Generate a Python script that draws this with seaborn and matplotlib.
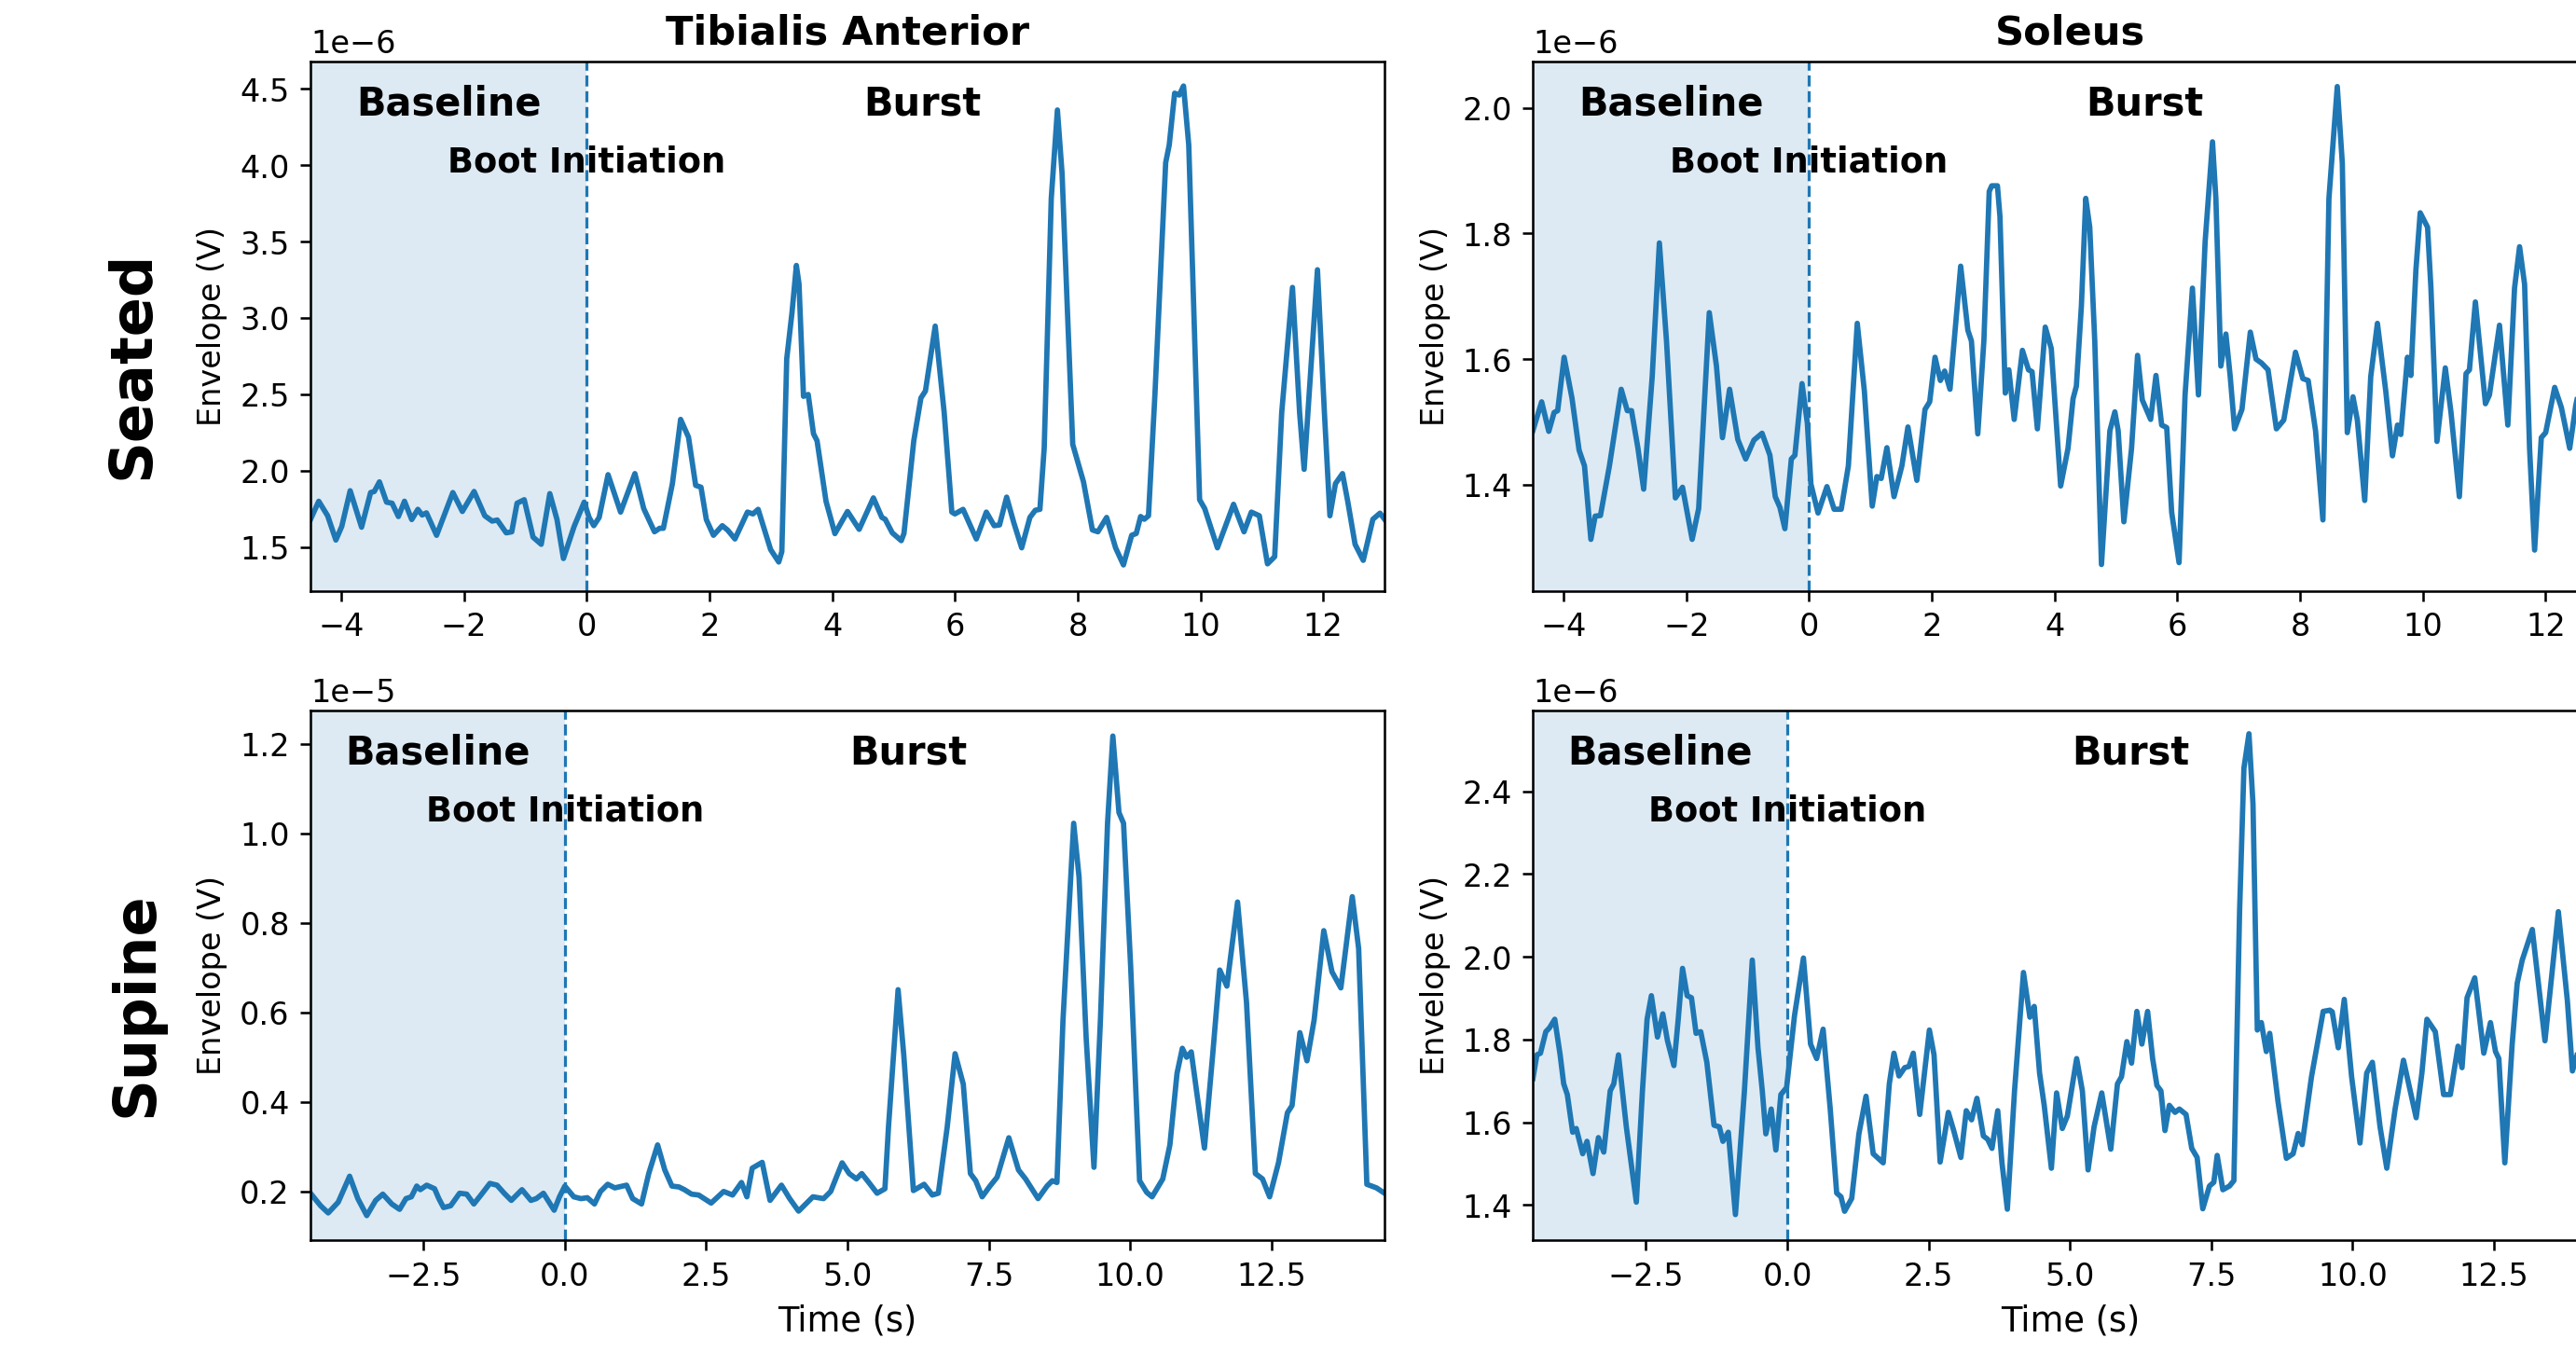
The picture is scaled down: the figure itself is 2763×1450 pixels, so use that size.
import numpy as np
import pandas as pd
import matplotlib
matplotlib.use("Agg")
import matplotlib.pyplot as plt
import matplotlib.transforms as mtransforms
import seaborn as sns

# ---- data (time in s, envelope in units of the axis offset) ----

# Tibialis Anterior, seated (x 1e-6 V)
ta_seated_t = [-4.5, -4.365, -4.22, -4.086, -3.99, -3.853, -3.667, -3.52, -3.46, -3.376, -3.26, -3.17,
               -3.067, -2.968, -2.85, -2.75, -2.68, -2.61, -2.445, -2.18, -2.025, -1.834, -1.66, -1.54,
               -1.456, -1.31, -1.22, -1.134, -1.017, -0.873, -0.74, -0.60, -0.483, -0.378, -0.204, -0.04,
               0.04, 0.116, 0.204, 0.349, 0.553, 0.786, 0.93, 1.105, 1.19, 1.25, 1.397, 1.531, 1.66, 1.776,
               1.863, 1.95, 2.066, 2.21, 2.30, 2.416, 2.62, 2.71, 2.794, 2.997, 3.13, 3.18, 3.26, 3.346,
               3.417, 3.46, 3.533, 3.61, 3.696, 3.754, 3.90, 4.045, 4.25, 4.44, 4.672, 4.81, 4.864, 4.98,
               5.126, 5.17, 5.33, 5.446, 5.52, 5.679, 5.825, 5.95, 6.0, 6.133, 6.349, 6.512, 6.64, 6.727,
               6.843, 6.96, 7.088, 7.222, 7.31, 7.385, 7.455, 7.57, 7.67, 7.746, 7.83, 7.92, 8.095, 8.24,
               8.33, 8.472, 8.618, 8.746, 8.88, 8.955, 9.026, 9.085, 9.154, 9.259, 9.434, 9.492, 9.58,
               9.655, 9.725, 9.81, 9.987, 10.07, 10.277, 10.54, 10.71, 10.83, 10.96, 11.093, 11.21,
               11.325, 11.5, 11.616, 11.69, 11.79, 11.907, 12.02, 12.11, 12.2, 12.315, 12.40, 12.52,
               12.653, 12.81, 12.926, 13.0]
ta_seated_v = [1.68, 1.80, 1.705, 1.546, 1.635, 1.869, 1.63, 1.857, 1.864, 1.927, 1.794, 1.787,
               1.70, 1.80, 1.68, 1.747, 1.71, 1.724, 1.577, 1.857, 1.733, 1.864, 1.705, 1.67,
               1.677, 1.593, 1.60, 1.787, 1.81, 1.565, 1.518, 1.85, 1.68, 1.425, 1.635, 1.794,
               1.694, 1.64, 1.694, 1.974, 1.729, 1.981, 1.752, 1.60, 1.623, 1.623, 1.915, 2.336, 2.219, 1.904,
               1.892, 1.68, 1.577, 1.64, 1.61, 1.553, 1.729, 1.717, 1.747, 1.484, 1.402, 1.47, 2.733, 3.036,
               3.344, 3.223, 2.487, 2.499, 2.242, 2.196, 1.80, 1.588, 1.733, 1.616, 1.822, 1.694, 1.682, 1.593,
               1.542, 1.589, 2.196, 2.476, 2.522, 2.947, 2.382, 1.729, 1.717, 1.747, 1.553, 1.729, 1.64, 1.645,
               1.827, 1.659, 1.495, 1.694, 1.741, 1.747, 2.149, 3.783, 4.362, 3.947, 3.08, 2.172, 1.927, 1.612,
               1.60, 1.694, 1.495, 1.383, 1.577, 1.589, 1.70, 1.682, 1.705, 2.499, 4.017, 4.133, 4.472,
               4.46, 4.519, 4.133, 1.81, 1.752, 1.495, 1.78, 1.60, 1.729, 1.705, 1.39, 1.437,
               2.382, 3.20, 2.382, 2.009, 2.616, 3.316, 2.382, 1.705, 1.915, 1.981, 1.80, 1.518,
               1.413, 1.682, 1.722, 1.682]

# Soleus, seated (x 1e-6 V)
sol_seated_t = [-4.5, -4.358, -4.242, -4.155, -4.097, -3.992, -3.864, -3.748, -3.66, -3.556, -3.486, -3.40,
                -3.254, -3.062, -2.963, -2.894, -2.789, -2.696, -2.557, -2.44, -2.324, -2.179, -2.063,
                -1.906, -1.80, -1.627, -1.51, -1.412, -1.296, -1.162, -1.034, -0.90, -0.767, -0.639,
                -0.552, -0.476, -0.395, -0.29, -0.232, -0.116, -0.029, 0.029, 0.145, 0.29, 0.407, 0.523,
                0.639, 0.784, 0.90, 1.028, 1.104, 1.174, 1.267, 1.383, 1.511, 1.61, 1.755, 1.888, 1.964,
                2.051, 2.138, 2.208, 2.295, 2.469, 2.586, 2.644, 2.748, 2.847, 2.934, 2.975, 3.068, 3.109,
                3.196, 3.254, 3.341, 3.475, 3.574, 3.632, 3.719, 3.847, 3.945, 4.098, 4.218, 4.30, 4.354,
                4.436, 4.507, 4.572, 4.654, 4.763, 4.845, 4.90, 4.981, 5.035, 5.128, 5.253, 5.351, 5.428,
                5.564, 5.651, 5.744, 5.826, 5.907, 6.027, 6.125, 6.245, 6.343, 6.452, 6.572, 6.627, 6.708,
                6.79, 6.861, 6.932, 7.052, 7.188, 7.281, 7.368, 7.477, 7.613, 7.733, 7.924, 8.044, 8.131,
                8.251, 8.371, 8.469, 8.605, 8.687, 8.768, 8.861, 8.932, 9.052, 9.15, 9.259, 9.395, 9.504,
                9.586, 9.64, 9.749, 9.804, 9.886, 9.956, 10.076, 10.131, 10.229, 10.365, 10.458, 10.594,
                10.703, 10.758, 10.855, 10.948, 11.019, 11.084, 11.248, 11.384, 11.493, 11.575, 11.657,
                11.738, 11.82, 11.929, 12.0, 12.147, 12.256, 12.392, 12.49, 12.65, 12.8, 13.0]
sol_seated_v = [1.4865, 1.532, 1.485, 1.515, 1.518, 1.603, 1.538, 1.455, 1.43, 1.313, 1.35, 1.351,
                1.43, 1.552, 1.518, 1.518, 1.458, 1.393, 1.572, 1.785, 1.629, 1.379, 1.396,
                1.313, 1.362, 1.674, 1.589, 1.475, 1.552, 1.472, 1.441, 1.471, 1.482, 1.447,
                1.381, 1.364, 1.33, 1.441, 1.447, 1.561, 1.498, 1.401, 1.355, 1.397, 1.361, 1.361,
                1.43, 1.657, 1.549, 1.366, 1.413, 1.41, 1.459, 1.381, 1.43, 1.492, 1.407, 1.52, 1.532,
                1.603, 1.566, 1.581, 1.552, 1.748, 1.646, 1.629, 1.481, 1.629, 1.867, 1.876, 1.876, 1.827,
                1.546, 1.583, 1.504, 1.614, 1.583, 1.58, 1.489, 1.651, 1.617, 1.398, 1.458, 1.537, 1.557,
                1.685, 1.856, 1.81, 1.628, 1.273, 1.401, 1.486, 1.516, 1.486, 1.341, 1.458, 1.606, 1.535,
                1.504, 1.574, 1.495, 1.491, 1.356, 1.276, 1.543, 1.713, 1.543, 1.787, 1.946, 1.856, 1.589,
                1.64, 1.572, 1.489, 1.52, 1.643, 1.60, 1.594, 1.583, 1.489, 1.503, 1.611, 1.569, 1.566,
                1.486, 1.344, 1.856, 2.034, 1.912, 1.483, 1.54, 1.503, 1.375, 1.572, 1.657, 1.549, 1.446,
                1.495, 1.48, 1.603, 1.574, 1.742, 1.833, 1.81, 1.713, 1.469, 1.586, 1.515, 1.381,
                1.577, 1.583, 1.691, 1.60, 1.529, 1.543, 1.654, 1.495, 1.713, 1.779, 1.719,
                1.458, 1.296, 1.475, 1.483, 1.555, 1.523, 1.458, 1.526, 1.60, 1.52, 1.48]

# Tibialis Anterior, supine (x 1e-5 V)
ta_supine_t = [-4.5, -4.32, -4.186, -4.009, -3.807, -3.662, -3.504, -3.346, -3.22, -3.062, -2.923, -2.81,
               -2.715, -2.62, -2.557, -2.443, -2.304, -2.229, -2.146, -2.02, -1.862, -1.736, -1.61, -1.484,
               -1.326, -1.2, -1.073, -0.947, -0.758, -0.60, -0.505, -0.379, -0.189, -0.095, 0.0, 0.158,
               0.284, 0.398, 0.524, 0.631, 0.758, 0.884, 1.092, 1.20, 1.357, 1.484, 1.641, 1.768, 1.894,
               2.02, 2.115, 2.241, 2.367, 2.588, 2.809, 2.967, 3.125, 3.22, 3.314, 3.491, 3.63, 3.832,
               3.977, 4.135, 4.388, 4.577, 4.703, 4.905, 5.03, 5.158, 5.252, 5.378, 5.523, 5.662, 5.725,
               5.895, 5.996, 6.166, 6.355, 6.50, 6.607, 6.764, 6.903, 7.048, 7.174, 7.268, 7.382, 7.52,
               7.647, 7.854, 8.025, 8.15, 8.371, 8.529, 8.623, 8.705, 8.812, 9.001, 9.096, 9.222, 9.36,
               9.474, 9.60, 9.694, 9.802, 9.883, 10.009, 10.167, 10.293, 10.388, 10.577, 10.703, 10.829,
               10.923, 10.999, 11.081, 11.175, 11.314, 11.459, 11.585, 11.711, 11.90, 12.058, 12.215,
               12.341, 12.467, 12.624, 12.782, 12.864, 13.002, 13.128, 13.254, 13.425, 13.57, 13.727,
               13.929, 14.042, 14.187, 14.357, 14.5]
ta_supine_v = [0.196, 0.168, 0.152, 0.176, 0.234, 0.184, 0.146, 0.18, 0.194, 0.172, 0.16, 0.184,
               0.188, 0.212, 0.204, 0.214, 0.206, 0.184, 0.164, 0.168, 0.196, 0.194, 0.172, 0.192,
               0.218, 0.214, 0.196, 0.18, 0.204, 0.18, 0.184, 0.196, 0.158, 0.188, 0.212, 0.188,
               0.184, 0.186, 0.172, 0.20, 0.216, 0.208, 0.214, 0.184, 0.172, 0.24, 0.304, 0.248, 0.212,
               0.21, 0.204, 0.194, 0.192, 0.174, 0.20, 0.192, 0.22, 0.188, 0.252, 0.265, 0.18, 0.214,
               0.184, 0.156, 0.188, 0.184, 0.20, 0.264, 0.24, 0.228, 0.24, 0.22, 0.196, 0.206, 0.344,
               0.651, 0.504, 0.202, 0.216, 0.192, 0.196, 0.344, 0.508, 0.44, 0.24, 0.224, 0.188, 0.212,
               0.232, 0.32, 0.248, 0.228, 0.184, 0.212, 0.224, 0.22, 0.583, 1.023, 0.903, 0.543, 0.254,
               0.583, 1.023, 1.218, 1.047, 1.023, 0.703, 0.224, 0.198, 0.188, 0.228, 0.304, 0.464,
               0.52, 0.50, 0.512, 0.424, 0.297, 0.504, 0.695, 0.659, 0.847, 0.623, 0.24,
               0.228, 0.188, 0.264, 0.376, 0.392, 0.555, 0.492, 0.583, 0.783, 0.691, 0.655,
               0.859, 0.743, 0.216, 0.208, 0.196]

# Soleus, supine (x 1e-6 V)
sol_supine_t = [-4.5, -4.43, -4.367, -4.272, -4.209, -4.114, -4.019, -3.956, -3.892, -3.797, -3.734, -3.62,
                -3.544, -3.437, -3.342, -3.247, -3.133, -3.07, -2.987, -2.848, -2.671, -2.563, -2.481,
                -2.405, -2.297, -2.203, -2.12, -2.006, -1.93, -1.854, -1.772, -1.696, -1.614, -1.532,
                -1.424, -1.297, -1.203, -1.139, -1.044, -0.918, -0.759, -0.62, -0.519, -0.443, -0.38,
                -0.285, -0.203, -0.114, -0.013, 0.127, 0.285, 0.411, 0.519, 0.633, 0.759, 0.873, 0.949,
                1.013, 1.139, 1.266, 1.392, 1.519, 1.696, 1.804, 1.886, 1.975, 2.076, 2.152, 2.228, 2.342,
                2.513, 2.595, 2.703, 2.848, 2.943, 3.07, 3.165, 3.259, 3.354, 3.468, 3.544, 3.62, 3.722,
                3.797, 3.892, 4.019, 4.177, 4.291, 4.367, 4.462, 4.544, 4.671, 4.763, 4.864, 4.953, 5.118,
                5.219, 5.32, 5.426, 5.562, 5.722, 5.84, 5.911, 6.006, 6.089, 6.183, 6.272, 6.373, 6.462,
                6.538, 6.609, 6.68, 6.757, 6.858, 6.935, 7.053, 7.154, 7.249, 7.349, 7.467, 7.544, 7.604,
                7.704, 7.822, 7.899, 8.0, 8.077, 8.166, 8.237, 8.314, 8.385, 8.473, 8.533, 8.68, 8.828,
                8.947, 9.036, 9.107, 9.272, 9.479, 9.598, 9.639, 9.746, 9.852, 9.982, 10.13, 10.249,
                10.349, 10.485, 10.604, 10.751, 10.899, 11.124, 11.225, 11.314, 11.462, 11.609, 11.728,
                11.864, 11.935, 12.024, 12.16, 12.32, 12.438, 12.527, 12.586, 12.692, 12.822, 12.911,
                13.0, 13.178, 13.402, 13.639, 13.799, 13.888, 14.05, 14.25, 14.5]
sol_supine_v = [1.706, 1.763, 1.767, 1.819, 1.828, 1.849, 1.763, 1.693, 1.667, 1.576, 1.585, 1.524,
                1.554, 1.476, 1.563, 1.528, 1.676, 1.693, 1.763, 1.589, 1.407, 1.676, 1.849,
                1.906, 1.806, 1.862, 1.797, 1.737, 1.849, 1.972, 1.906, 1.901, 1.815, 1.819,
                1.745, 1.593, 1.589, 1.554, 1.576, 1.377, 1.676, 1.992, 1.78, 1.676, 1.572,
                1.632, 1.533, 1.667, 1.684, 1.858, 1.997, 1.789, 1.754, 1.825, 1.632, 1.429, 1.42,
                1.385, 1.416, 1.572, 1.663, 1.524, 1.502, 1.693, 1.767, 1.712, 1.732, 1.735, 1.767, 1.619,
                1.823, 1.763, 1.504, 1.624, 1.58, 1.515, 1.628, 1.606, 1.658, 1.567, 1.559, 1.537, 1.628,
                1.502, 1.39, 1.676, 1.962, 1.854, 1.88, 1.719, 1.641, 1.489, 1.671, 1.585, 1.615, 1.754,
                1.676, 1.485, 1.589, 1.671, 1.535, 1.693, 1.71, 1.795, 1.743, 1.868, 1.789, 1.868, 1.754,
                1.689, 1.676, 1.58, 1.641, 1.624, 1.632, 1.619, 1.537, 1.515, 1.391, 1.446, 1.455, 1.52,
                1.437, 1.446, 1.459, 2.109, 2.456, 2.539, 2.37, 1.823, 1.841, 1.771, 1.815, 1.65, 1.513,
                1.524, 1.573, 1.546, 1.71, 1.868, 1.871, 1.867, 1.78, 1.897, 1.71, 1.55, 1.719,
                1.745, 1.589, 1.489, 1.632, 1.75, 1.611, 1.719, 1.849, 1.819, 1.667, 1.667,
                1.784, 1.732, 1.901, 1.949, 1.767, 1.841, 1.771, 1.754, 1.502, 1.789, 1.936,
                1.992, 2.066, 1.797, 2.109, 1.893, 1.724, 1.80, 1.76, 1.70]

muscles = ["Tibialis Anterior", "Soleus"]
positions = ["Seated", "Supine"]
baseline_start = -4.5
burst_label_x = {"Seated": 5.47, "Supine": 6.07}
time_end = {"Seated": 13.0, "Supine": 14.5}

panels = {
    ("Seated", "Tibialis Anterior"): (ta_seated_t, ta_seated_v, 1e-6, (1.213, 4.68)),
    ("Seated", "Soleus"): (sol_seated_t, sol_seated_v, 1e-6, (1.231, 2.074)),
    ("Supine", "Tibialis Anterior"): (ta_supine_t, ta_supine_v, 1e-5, (0.0914, 1.275)),
    ("Supine", "Soleus"): (sol_supine_t, sol_supine_v, 1e-6, (1.3155, 2.595)),
}

# ---- figure ----
dpi = 230
fig = plt.figure(figsize=(2763.4 / dpi, 1450.4 / dpi), dpi=dpi)

col_x = [0.1205, 0.5950]
row_y = [0.5628, 0.0828]
ax_w, ax_h = 0.4169, 0.3915

for r, pos in enumerate(positions):
    for c, muscle in enumerate(muscles):
        t, v, scale, ylim = panels[(pos, muscle)]
        ax = fig.add_axes([col_x[c], row_y[r], ax_w, ax_h])
        df = pd.DataFrame({"Time (s)": t, "Envelope (V)": np.array(v) * scale})

        ax.axvspan(baseline_start, 0, color="C0", alpha=0.15, lw=0)
        sns.lineplot(data=df, x="Time (s)", y="Envelope (V)", ax=ax, color="C0",
                     linewidth=1.8, estimator=None, sort=False)
        ax.lines[-1].set_solid_joinstyle("round")
        ax.axvline(0, color="C0", linestyle="--", linewidth=1)

        ax.set_xlim(baseline_start, time_end[pos])
        ax.set_ylim(ylim[0] * scale, ylim[1] * scale)
        ax.tick_params(labelsize=10.5)
        ax.yaxis.get_offset_text().set_fontsize(10.5)

        trans = mtransforms.blended_transform_factory(ax.transData, ax.transAxes)
        ax.text(baseline_start / 2, 0.92, "Baseline", transform=trans, ha="center", va="center",
                fontsize=13, fontweight="bold")
        ax.text(burst_label_x[pos], 0.92, "Burst", transform=trans, ha="center", va="center",
                fontsize=13, fontweight="bold")
        ax.text(0, 0.81, "Boot Initiation", transform=trans, ha="center", va="center",
                fontsize=11.5, fontweight="bold")

        ax.set_ylabel("Envelope (V)", fontsize=10.5)
        if r == 0:
            ax.set_title(muscle, fontsize=13.5, fontweight="bold")
            ax.set_xlabel("")
        else:
            ax.set_xlabel("Time (s)", fontsize=11.5)

fig.text(0.0516, 0.7303, "Seated", rotation=90, ha="center", va="center",
         fontsize=19.5, fontweight="bold")
fig.text(0.0529, 0.2572, "Supine", rotation=90, ha="center", va="center",
         fontsize=19.5, fontweight="bold")

fig.savefig("out.png", dpi=dpi)
